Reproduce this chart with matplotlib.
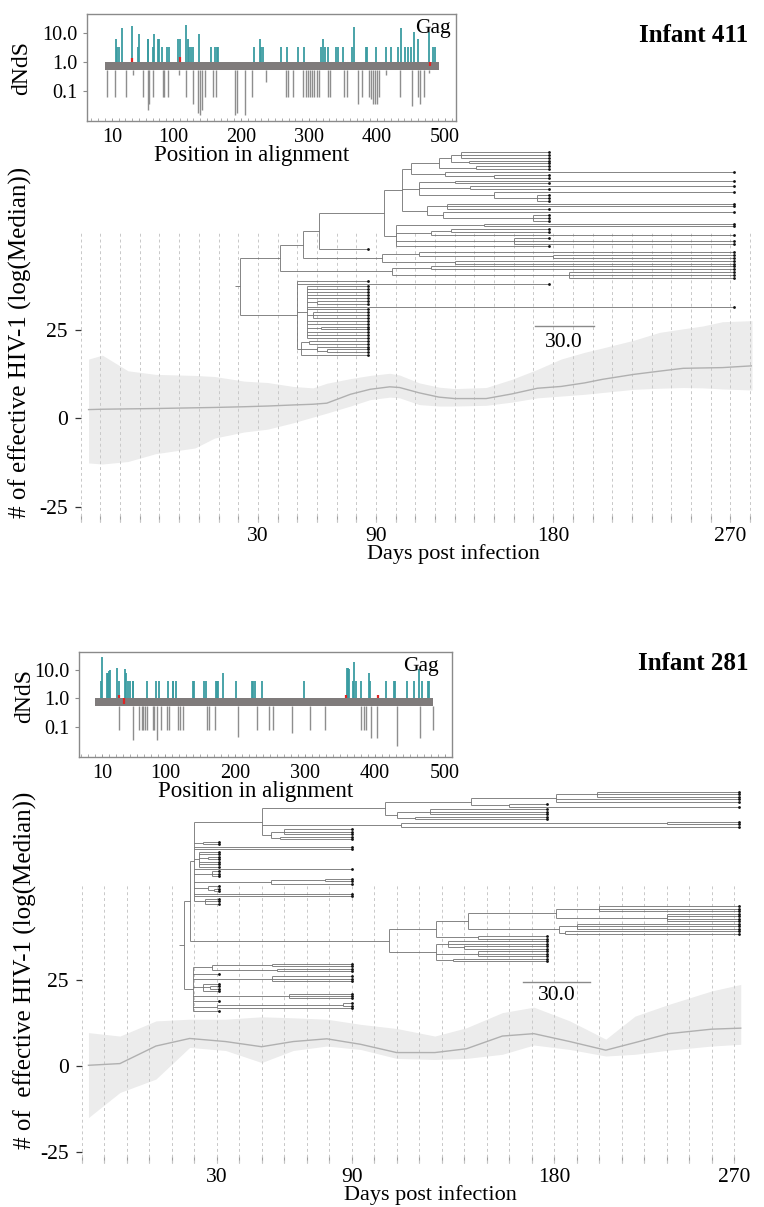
import matplotlib
matplotlib.use("Agg")
import matplotlib.pyplot as plt
from matplotlib.collections import LineCollection
from matplotlib.ticker import FixedLocator, MultipleLocator, NullFormatter, LogLocator

plt.rcParams['font.family'] = ['Liberation Serif', 'DejaVu Serif']

W, H = 764, 1207

# ---------------- Effective population size (log median) ----------------
days_411 = [-56, -49, -36, -22, -2, 8, 23, 35, 48, 58, 65, 77, 87, 97, 102, 112, 122, 130, 146, 159,
            172, 184, 196, 205, 221, 234, 246, 256, 266, 281]
med_411 = [2.5, 2.6, 2.7, 2.8, 3.0, 3.1, 3.3, 3.5, 3.8, 4.0, 4.3, 6.8, 8.2, 8.9, 8.7, 7.2, 6.0, 5.6, 5.6, 6.9,
           8.5, 9.0, 10.0, 11.0, 12.4, 13.3, 14.1, 14.2, 14.3, 14.8]
up_411 = [16.7, 17.8, 13.4, 12.4, 12.1, 11.8, 10.5, 10.1, 9.0, 8.6, 9.9, 11.2, 12.1, 12.7, 12.2, 10.0, 8.8, 8.4, 8.7, 11.0,
          13.8, 16.7, 18.6, 19.8, 22.0, 24.2, 25.2, 26.0, 27.2, 27.5]
lo_411 = [-12.5, -12.8, -12.1, -9.9, -8.3, -5.5, -3.8, -3.0, -1.2, 0.4, 1.5, 3.5, 5.3, 6.0, 5.8, 3.9, 3.5, 3.5, 3.7, 4.6,
          5.8, 6.3, 6.8, 7.3, 8.2, 8.5, 8.7, 8.6, 8.3, 8.0]

days_281 = [-27, -13, 3, 18, 34, 50, 64, 79, 94, 110, 127, 141, 157, 171, 187, 203, 216, 231, 250, 263]
med_281 = [0.2, 0.7, 5.8, 8.0, 7.1, 5.6, 7.1, 7.9, 6.3, 3.9, 3.9, 5.0, 8.7, 9.4, 7.1, 4.6, 6.8, 9.4, 10.7, 11.0]
up_281 = [9.7, 8.7, 13.1, 13.6, 13.6, 14.3, 14.0, 13.6, 12.1, 10.9, 8.7, 11.1, 15.5, 17.1, 13.1, 7.8, 14.5, 17.9, 21.8, 23.7]
lo_281 = [-15.0, -7.7, -3.8, 5.4, 4.5, 1.0, 4.5, 5.8, 4.8, 2.2, 1.9, 2.2, 3.4, 6.1, 4.8, 2.9, 3.4, 4.6, 5.8, 6.3]

grid_411 = list(range(-60, 281, 10))
grid_281 = list(range(-30, 261, 10))
xticks_411 = [30, 90, 180, 270]
xticklabels_411 = ['30', '90', '180', '270']
xticks_281 = [30, 90, 180, 260]
xticklabels_281 = ['30', '90', '180', '270']
yticks_main = [-25, 0, 25]

# ---------------- Time-scaled trees (node time in days, [children]); leaves = sampling day -------------
L1, M1, R1 = 86, 178, 272
tree_411 = [21, [
    [41, [
        [53, [
            [61, [
                [94, [
                    [103, [
                        [108, [
                            [122, [[128, [[133, [M1, M1, M1]], [137, [M1, M1]]]], [141, [M1, M1]]]],
                            [125, [R1, [150, [M1, M1]]]],
                        ]],
                        [112, [[130, [R1, M1]], [138, [R1, M1]], [150, [R1, [172, [M1, M1, M1]]]]]],
                        [116, [[126, [R1, R1, M1]], [124, [R1, [170, [M1, M1, M1]]]]]],
                    ]],
                    [100, [[145, [R1, R1]], [118, [[128, [M1, M1]], R1]], [160, [M1, R1, R1]], M1]],
                ]],
                L1,
            ]],
            [93, [[112, [R1, [180, [R1, R1]]]], [130, [R1, R1]]]],
        ]],
        [98, [[118, [R1, R1]], [188, [R1, R1, R1]]]],
    ]],
    [50, [
        L1, M1,
        [55, [L1, L1, L1, L1, L1, [60, [L1, L1]], R1, L1, [58, [L1, L1, L1]], L1, L1, [62, [L1, L1]], L1, L1, L1]],
        [52, [[56, [L1, L1]], [60, [L1, [65, [L1, L1]]]], L1]],
    ]],
]]

S2, L2, M2, R2 = 31, 90, 177, 262
tree_281 = [15.7, [
    [18.0, [
        [19.8, [
            [50, [
                [105, [
                    [143, [[181, [[199, [R2, R2, R2]], R2, R2]], [160, [M2, R2]]]],
                    [110, [[125, [M2, M2, M2]], [118, [M2, M2]]]],
                ]],
                [112, [[230, [R2, R2]], R2]],
                [54, [[60, [L2, L2, L2]], [58, [L2, L2]]]],
            ]],
            [24, [S2, S2]],
            L2, L2,
            [22, [S2, S2, [26, [S2, S2]], S2, S2, S2]],
            L2,
            [28, [S2, S2, S2]],
            [54, [[78, [L2, L2]], L2]],
            [26, [S2, [29, [S2, S2]]]],
            L2, L2,
            [25, [S2, S2, S2]],
        ]],
        [106.5, [
            [127.5, [
                [141.6, [
                    [181, [[200, [R2, R2, R2]], [230, [R2, R2, R2, R2]]]],
                    [182, [[190, [R2, R2, R2]], [185, [R2, R2]]]],
                ]],
                [146, [M2, M2]],
            ]],
            [127.5, [[133, [M2, M2, [140, [M2, M2]]]], [146, [M2, M2, M2]], [135, [M2, M2]]]],
        ]],
    ]],
    [19.5, [
        [28, [[54.7, [L2, L2]], [57, [L2, L2]]]],
        S2,
        [54.7, [L2, L2, L2]],
        [24, [S2, [27, [S2, S2]], S2]],
        [62, [L2, L2, L2]],
        S2,
        [30, [[86, [L2, L2]], L2]],
        S2,
    ]],
]]

# ---------------- dN/dS per alignment position ----------------
pos_up_411 = [15.7, 18.2, 20.6, 25.5, 39.2, 48, 49.5, 62.7, 63.7, 71, 72, 78.4, 79.9, 84.3, 90.7, 94.6, 106.9,
              110.3, 119, 122.5, 123.5, 126.9, 129.9, 138.7, 155.9, 161.8, 164.2, 166.7, 219, 227.9, 229.9,
              232.8, 258.3, 267, 284.3, 292.6, 317, 321, 323.5, 328.4, 339.2, 343, 350.4, 362.7, 366.6,
              383.8, 385.8, 398.5, 413.2, 420, 431.4, 435.3, 441.2, 446, 450, 454.4, 459.8, 476.5, 482.8, 485.3]
val_up_411 = [6.2, 3.3, 3.3, 15, 18, 3.3, 9.2, 6.2, 6.2, 3.3, 9.2, 6.2, 6.2, 3.3, 3.3, 3.3, 6.2,
              6.2, 19.5, 6.2, 3.3, 3.3, 3.3, 9.2, 3.3, 3.3, 3.3, 3.3, 3.3, 6.2, 3.3,
              3.3, 3.3, 3.3, 3.3, 3.3, 3.3, 6.2, 3.3, 3.3, 3.3, 3.3, 3.3, 3.3, 16.5,
              3.3, 3.3, 3.3, 3.3, 3.3, 3.3, 15, 3.3, 3.3, 3.3, 11, 6.2, 11, 3.3, 3.3]
pos_dn_411 = [2.5, 14.7, 30.4, 40.7, 56.4, 62.7, 64.2, 70.1, 85.8, 87.3, 93.1, 109.3, 119.1, 129.9, 137.3,
              139.7, 142.2, 147.1, 158.3, 163.2, 191.2, 193.6, 205.9, 215.7, 236.8, 266.2, 269.6, 276,
              291.7, 295.6, 299, 302, 304.4, 307.4, 311.3, 315.2, 328.4, 330.9, 352, 355.4, 372.5, 377.5,
              388.7, 390.7, 393.6, 397.1, 399.5, 403.4, 413.2, 433.8, 451, 460.8, 463.2, 469.6, 476.5]
val_dn_411 = [0.06, 0.06, 0.06, 0.35, 0.06, 0.021, 0.035, 0.06, 0.06, 0.06, 0.06, 0.35, 0.06, 0.035, 0.016,
              0.014, 0.021, 0.06, 0.06, 0.06, 0.014, 0.016, 0.014, 0.06, 0.2, 0.06, 0.06, 0.06,
              0.06, 0.06, 0.06, 0.06, 0.06, 0.06, 0.06, 0.06, 0.06, 0.06, 0.06, 0.06, 0.035, 0.06,
              0.06, 0.05, 0.035, 0.035, 0.035, 0.06, 0.35, 0.06, 0.03, 0.06, 0.035, 0.06, 0.4]
pos_red_411 = [40.2, 110.3, 478]
red_lo_411 = [1.0, 1.0, 0.7]
red_hi_411 = [1.4, 1.5, 1.0]

pos_up_281 = [8.1, 10.5, 16.7, 19.0, 20.5, 21.9, 31, 34.8, 42.9, 44.3, 47.6, 50, 53.8, 54.8, 73.8, 87.1, 91.9,
              104.8, 111, 111.9, 115.7, 140.5, 141.4, 156.2, 158.1, 172.9, 174.8, 176.2, 182.4, 201.4,
              223.8, 225.2, 228.6, 238.1, 298.6, 359.5, 361.9, 363.3, 368.1, 370.5, 372.9, 379.5, 391.9,
              392.9, 415.7, 427.1, 428.6, 446.2, 456.2, 463.3, 466.7, 476.2, 477.6]
val_up_281 = [4.1, 29, 7.6, 7.6, 9, 10, 12, 4.1, 11, 7.6, 4.1, 4.1, 4.1, 4.1, 4.1, 4.1, 4.1,
              4.1, 4.1, 4.1, 4.1, 4.1, 4.1, 4.1, 4.1, 4.1, 4.1, 4.1, 7.6, 4.1,
              4.1, 4.1, 4.1, 4.1, 4.1, 12, 12, 11, 4.1, 19, 4.1, 4.1, 7.6,
              4.1, 4.1, 4.1, 4.1, 4.1, 4.1, 11, 4.1, 4.1, 4.1]
pos_dn_281 = [34.3, 54.8, 63.3, 66.7, 69, 71.4, 73.8, 82.4, 84.3, 88.1, 93.8, 103.3, 106.2, 119, 121.4, 125.2,
              160.5, 163.3, 171.4, 204.8, 231, 249, 253.8, 281, 307, 328.6, 379.5, 384.3, 387, 393.8,
              403.3, 431.9, 464.3, 482.4]
val_dn_281 = [0.075, 0.034, 0.075, 0.075, 0.075, 0.075, 0.075, 0.075, 0.075, 0.034, 0.075, 0.075, 0.075, 0.075,
              0.075, 0.075, 0.075, 0.075, 0.075, 0.045, 0.075, 0.075, 0.075, 0.06, 0.075, 0.075, 0.075, 0.075,
              0.075, 0.039, 0.039, 0.02, 0.039, 0.075]
pos_red_281 = [33.8, 41.9, 358, 404]
red_lo_281 = [1.0, 0.65, 1.0, 1.0]
red_hi_281 = [1.3, 1.0, 1.3, 1.3]

inset_xticks = [10, 100, 200, 300, 400, 500]
inset_yticks = [0.1, 1.0, 10.0]
inset_yticklabels = ['0.1', '1.0', '10.0']

# ---------------- drawing helpers ----------------
fig = plt.figure(figsize=(W / 100, H / 100), dpi=100)


def box(x0, y0, x1, y1):
    return [x0 / W, 1 - y1 / H, (x1 - x0) / W, (y1 - y0) / H]


def count_tips(node):
    if isinstance(node, (int, float)):
        return 1
    return sum(count_tips(c) for c in node[1])


def draw_tree(ax, tree, y_top, y_bot):
    n = count_tips(tree)
    dy = (y_top - y_bot) / (n - 1)
    counter = [0]
    segs, tips = [], []

    def rec(node, parent_t):
        if isinstance(node, (int, float)):
            y = y_top - counter[0] * dy
            counter[0] += 1
            segs.append([(parent_t, y), (node, y)])
            tips.append((node, y))
            return y
        t, children = node
        ys = [rec(c, t) for c in children]
        segs.append([(t, ys[0]), (t, ys[-1])])
        y = 0.5 * (ys[0] + ys[-1])
        if parent_t is not None:
            segs.append([(parent_t, y), (t, y)])
        return y

    yr = rec(tree, None)
    segs.append([(tree[0] - 2.5, yr), (tree[0], yr)])
    lc = LineCollection(segs, colors='#707070', linewidths=0.6, clip_on=False, zorder=4)
    ax.add_collection(lc)
    ax.plot([t[0] for t in tips], [t[1] for t in tips], 'o', ms=2.0, color='#111111',
            mec='none', clip_on=False, zorder=5)


def draw_main(ax, days, med, lo, up, grid, xt, xtl, xlim, ylim):
    ax.set_xlim(*xlim)
    ax.set_ylim(*ylim)
    ax.fill_between(days, lo, up, color='#ececec', lw=0, zorder=1)
    ax.vlines(grid, ylim[0], ylim[1], colors='#c8c8c8', linestyles=(0, (3, 3)), lw=0.7, zorder=2)
    ax.plot(days, med, color='#b0b0b0', lw=1.0, zorder=3)
    for s in ax.spines.values():
        s.set_visible(False)
    ax.set_xticks(xt)
    ax.set_xticklabels(xtl, fontsize=15.5)
    ax.xaxis.set_minor_locator(FixedLocator(grid))
    ax.tick_params(axis='x', which='both', direction='in', length=5, width=0.8, color='#a0a0a0', pad=3.5)
    ax.set_yticks(yticks_main)
    ax.set_yticklabels(['-25', '0', '25'], fontsize=15.5)
    ax.tick_params(axis='y', direction='out', length=4, width=0.9, color='#333333', pad=5.5)


def draw_dnds(ax, pu, vu, pd, vd, pr, rlo, rhi, band_end, xlim, ylim):
    ax.set_yscale('log')
    ax.set_xlim(*xlim)
    ax.set_ylim(*ylim)
    ax.fill_between([0, band_end], 0.53, 1.0, color='#7f7b7b', lw=0, zorder=2)
    ax.vlines(pu, 1.0, vu, colors='#3a9ca1', lw=1.3, zorder=3)
    ax.vlines(pd, 0.53, vd, colors='#8e8e8e', lw=1.0, zorder=3)
    ax.vlines(pr, rlo, rhi, colors='#e02424', lw=1.6, zorder=4)
    for s in ax.spines.values():
        s.set_color('#8a8a8a')
        s.set_linewidth(1.0)
    ax.set_yticks(inset_yticks)
    ax.set_yticklabels(inset_yticklabels, fontsize=14.5)
    ax.yaxis.set_minor_locator(LogLocator(base=10, subs=range(2, 10)))
    ax.yaxis.set_minor_formatter(NullFormatter())
    ax.set_xticks(inset_xticks)
    ax.set_xticklabels([str(v) for v in inset_xticks], fontsize=14.5)
    ax.xaxis.set_minor_locator(MultipleLocator(10))
    ax.tick_params(axis='y', which='major', direction='out', length=3, width=0.8, color='#8a8a8a', pad=4)
    ax.tick_params(axis='y', which='minor', direction='in', length=2, width=0.5, color='#8a8a8a')
    ax.tick_params(axis='x', which='major', direction='in', length=2, width=0.6, color='#8a8a8a', pad=5)
    ax.tick_params(axis='x', which='minor', direction='in', length=2, width=0.5, color='#8a8a8a')


# ---------------- Infant 411 ----------------
ax1 = fig.add_axes(box(80.7, 231, 752, 522))
draw_main(ax1, days_411, med_411, lo_411, up_411, grid_411, xticks_411, xticklabels_411,
          (-60, 281), (-29.1, 52.7))
draw_tree(ax1, tree_411, 74.9, 17.8)
ax1.plot([170.6, 200.6], [26.0, 26.0], color='#8a8a8a', lw=1.0, clip_on=False, zorder=4)
ax1.text(185.6, 21.3, '30.0', ha='center', va='center', fontsize=15.5)

ins1 = fig.add_axes(box(87, 14, 456, 121))
draw_dnds(ins1, pos_up_411, val_up_411, pos_dn_411, val_dn_411, pos_red_411, red_lo_411, red_hi_411,
          491, (-26.5, 516), (0.0087, 47))
ins1.text(0.985, 0.86, 'Gag', transform=ins1.transAxes, ha='right', va='center', fontsize=15.5)

# ---------------- Infant 281 ----------------
ax2 = fig.add_axes(box(81.7, 884, 743, 1163))
draw_main(ax2, days_281, med_281, lo_281, up_281, grid_281, xticks_281, xticklabels_281,
          (-30, 264), (-28.2, 52.9))
draw_tree(ax2, tree_281, 79.7, 16.0)
ax2.plot([166, 196], [24.4, 24.4], color='#8a8a8a', lw=1.0, clip_on=False, zorder=4)
ax2.text(181, 20.4, '30.0', ha='center', va='center', fontsize=15.5)

ins2 = fig.add_axes(box(79, 652, 452, 757))
draw_dnds(ins2, pos_up_281, val_up_281, pos_dn_281, val_dn_281, pos_red_281, red_lo_281, red_hi_281,
          483, (-22.9, 510), (0.0085, 43.5))
ins2.text(0.965, 0.86, 'Gag', transform=ins2.transAxes, ha='right', va='center', fontsize=15.5)

# ---------------- labels ----------------
def ftext(x, y, s, **kw):
    fig.text(x / W, 1 - y / H, s, **kw)


ftext(748, 35, 'Infant 411', ha='right', va='center', fontsize=18, fontweight='bold')
ftext(748, 663, 'Infant 281', ha='right', va='center', fontsize=18, fontweight='bold')
ftext(22, 68, 'dNdS', rotation=90, ha='center', va='center', fontsize=17)
ftext(25, 696, 'dNdS', rotation=90, ha='center', va='center', fontsize=17)
ftext(252, 155, 'Position in alignment', ha='center', va='center', fontsize=16.5)
ftext(256, 791, 'Position in alignment', ha='center', va='center', fontsize=16.5)
ftext(453, 554, 'Days post infection', ha='center', va='center', fontsize=16)
ftext(430, 1195, 'Days post infection', ha='center', va='center', fontsize=16)
ftext(20, 342, '# of effective HIV-1 (log(Median))', rotation=90, ha='center', va='center', fontsize=18)
ftext(25, 970, '# of  effective HIV-1 (log(Median))', rotation=90, ha='center', va='center', fontsize=18)

fig.savefig('out.png', dpi=100, facecolor='white')
